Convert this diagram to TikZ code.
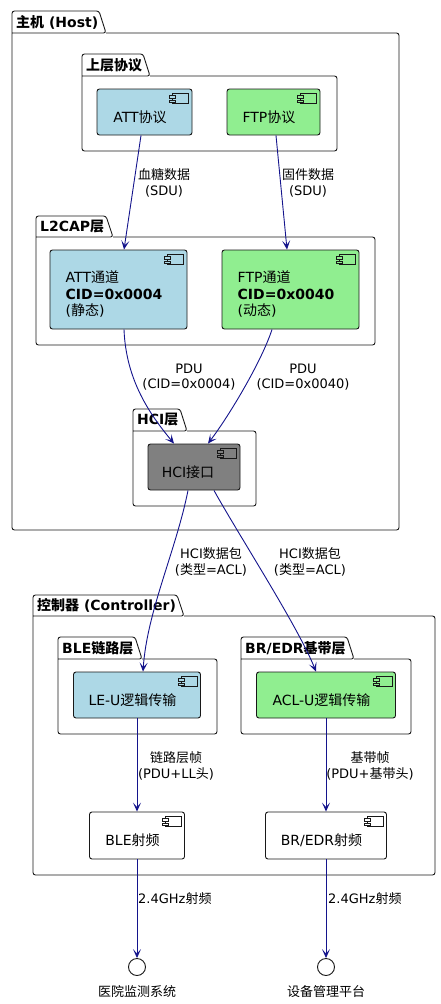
\documentclass[tikz,border=0pt]{standalone}
\usepackage{fontspec}
\setmainfont{DejaVu Sans}
\newfontfamily\cjk{Noto Sans CJK SC}
\newcommand{\zh}[1]{{\cjk #1}}
\usetikzlibrary{arrows.meta}

\definecolor{attblue}{HTML}{ADD8E6}
\definecolor{ftpgreen}{HTML}{90EE90}
\definecolor{hcigray}{HTML}{808080}
\definecolor{flowblue}{HTML}{14148C}
\definecolor{edge}{HTML}{181818}

% folder: left, tab top, tab right, body top, right, bottom, title
\newcommand{\pkgbox}[7]{%
	\draw[pkg] (#3,#4) -- (#5,#4) -- (#5,#6) -- (#1,#6) -- (#1,#2) -- (#3-7,#2) -- (#3,#4) -- (#1,#4);
	\node[pkgtitle] at (#1,{(#2+#4)/2}) {#7};}

% component icon in the top right corner of a node
\newcommand{\compicon}[2]{%
	\begin{scope}[shift={(#1.north east)}]
		\draw[edge, line width=0.8pt, fill=#2] (-20,5) rectangle (-4,15);
		\draw[edge, line width=0.8pt, fill=#2] (-23,7) rectangle (-17,9.6);
		\draw[edge, line width=0.8pt, fill=#2] (-23,11.6) rectangle (-17,14.2);
	\end{scope}}

\begin{document}
\begin{tikzpicture}[
	x=1pt, y=-1pt,
	pkg/.style={ draw=edge, line width=0.9pt, rounded corners=2.5pt },
	pkgtitle/.style={ anchor=west, inner sep=0pt, xshift=4pt, font=\bfseries\fontsize{14}{16}\selectfont },
	comp/.style={ draw=edge, line width=0.9pt, rounded corners=2.5pt, inner sep=0pt },
	comptext/.style={ align=left, xshift=-4.5pt, yshift=-5pt, font=\fontsize{14}{16.5}\selectfont },
	lbl/.style={ align=center, inner sep=0pt, font=\fontsize{13}{15.5}\selectfont },
	iface/.style={ circle, draw=edge, line width=0.9pt, fill=white, minimum size=17pt, inner sep=0pt },
	flow/.style={ draw=flowblue, line width=0.9pt, -{Stealth[length=9pt,width=8pt,inset=4.5pt]} }
]
\useasboundingbox (0,0) rectangle (441,1004);

% packages
\pkgbox{12}{11}{106}{33}{399}{530}{\zh{主机} (Host)}
\pkgbox{82}{54}{150}{76}{337}{151}{\zh{上层协议}}
\pkgbox{36}{216}{113}{237}{375}{345}{L2CAP\zh{层}}
\pkgbox{133}{409}{187}{431}{256}{506}{HCI\zh{层}}
\pkgbox{33}{595}{184}{616}{435}{875}{\zh{控制器} (Controller)}
\pkgbox{58}{637}{142}{659}{217}{734}{BLE\zh{链路层}}
\pkgbox{241}{637}{354}{659}{411}{734}{BR/EDR\zh{基带层}}

% components
\node at (144.5,112) (att) [comp, fill=attblue, minimum width=95pt, minimum height=46pt,
	label={[comptext]center:ATT\zh{协议}}] {};
\node at (273.5,112) (ftp) [comp, fill=ftpgreen, minimum width=93pt, minimum height=46pt,
	label={[comptext]center:FTP\zh{协议}}] {};
\node at (118.5,289.5) (attch) [comp, fill=attblue, minimum width=137pt, minimum height=79pt,
	label={[comptext]center:ATT\zh{通道}\\\textbf{CID=0x0004}\\(\zh{静态})}] {};
\node at (290.5,289.5) (ftpch) [comp, fill=ftpgreen, minimum width=137pt, minimum height=79pt,
	label={[comptext]center:FTP\zh{通道}\\\textbf{CID=0x0040}\\(\zh{动态})}] {};
\node at (194,467) (hci) [comp, fill=hcigray, minimum width=92pt, minimum height=46pt,
	label={[comptext, xshift=-1.5pt]center:HCI\zh{接口}}] {};
\node at (137,695) (leu) [comp, fill=attblue, minimum width=127pt, minimum height=46pt,
	label={[comptext]center:LE-U\zh{逻辑传输}}] {};
\node at (326,695) (aclu) [comp, fill=ftpgreen, minimum width=139pt, minimum height=46pt,
	label={[comptext]center:ACL-U\zh{逻辑传输}}] {};
\node at (137,835.5) (blerf) [comp, fill=white, minimum width=95pt, minimum height=47pt,
	label={[comptext]center:BLE\zh{射频}}] {};
\node at (326,835.5) (brrf) [comp, fill=white, minimum width=121pt, minimum height=47pt,
	label={[comptext]center:BR/EDR\zh{射频}}] {};
\compicon{att}{attblue}
\compicon{ftp}{ftpgreen}
\compicon{attch}{attblue}
\compicon{ftpch}{ftpgreen}
\compicon{hci}{hcigray}
\compicon{leu}{attblue}
\compicon{aclu}{ftpgreen}
\compicon{blerf}{white}
\compicon{brrf}{white}

% interfaces
\node at (137,967) (hosp) [iface, label={[lbl, label distance=9pt]below:\zh{医院监测系统}}] {};
\node at (326,967) (mgmt) [iface, label={[lbl, label distance=9pt]below:\zh{设备管理平台}}] {};

% flows
\draw[flow] ([xshift=-3.5pt]att.south) -- ([xshift=5.5pt]attch.north);
\draw[flow] ([xshift=2.5pt]ftp.south) -- ([xshift=-3.5pt]ftpch.north);
\draw[flow] ([xshift=5.5pt]attch.south) .. controls +(2,51) and +(-24,-29) .. ([xshift=-20pt]hci.north);
\draw[flow] ([xshift=-18.5pt]ftpch.south) .. controls +(-10,31) and +(22,-29) .. ([xshift=14pt]hci.north);
\draw[flow] ([xshift=-6pt]hci.south) .. controls +(-12,60) and +(4,-60) .. ([xshift=6pt]leu.north);
\draw[flow] ([xshift=20pt]hci.south) .. controls +(25,45) and +(-18,-45) .. ([xshift=-10pt]aclu.north);
\draw[flow] (leu.south) -- (blerf.north);
\draw[flow] (aclu.south) -- (brrf.north);
\draw[flow] (blerf.south) -- (hosp.north);
\draw[flow] (brrf.south) -- (mgmt.north);

% flow labels
\node at (164,183) (l-sdu-att) [lbl] {\zh{血糖数据}\\(SDU)};
\node at (308,183) (l-sdu-ftp) [lbl] {\zh{固件数据}\\(SDU)};
\node at (189,377) (l-pdu-att) [lbl] {PDU\\(CID=0x0004)};
\node at (303,377) (l-pdu-ftp) [lbl] {PDU\\(CID=0x0040)};
\node at (211,562) (l-acl-le) [lbl] {HCI\zh{数据包}\\(\zh{类型}=ACL)};
\node at (310,562) (l-acl-br) [lbl] {HCI\zh{数据包}\\(\zh{类型}=ACL)};
\node at (176,766) (l-ll) [lbl] {\zh{链路层帧}\\(PDU+LL\zh{头})};
\node at (370,766) (l-bb) [lbl] {\zh{基带帧}\\(PDU+\zh{基带头})};
\node at (138,899) (l-rf-ble) [lbl, anchor=west] {2.4GHz\zh{射频}};
\node at (328,899) (l-rf-br) [lbl, anchor=west] {2.4GHz\zh{射频}};

\end{tikzpicture}
\end{document}
